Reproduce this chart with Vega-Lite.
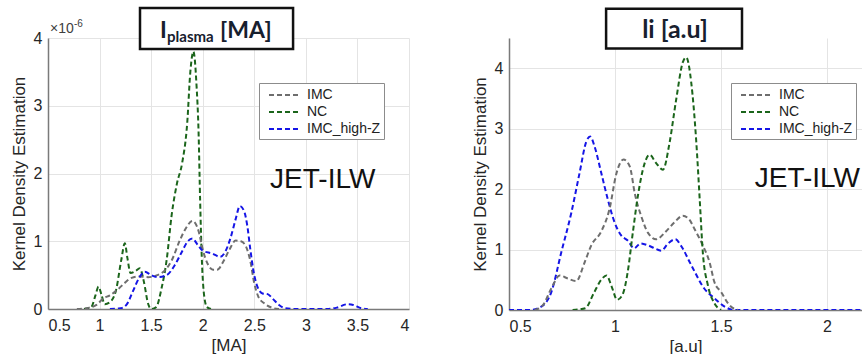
{
  "$schema": "https://vega.github.io/schema/vega-lite/v6.json",
  "padding": {"left": 10, "top": 6, "right": 0, "bottom": 0},
  "background": "white",
  "config": {
    "view": {"stroke": null},
    "font": "Liberation Sans",
    "axis": {
      "grid": true, "gridColor": "#e4e4e4", "gridWidth": 1,
      "domainColor": "#7a7a7a", "domainWidth": 1.5, "ticks": false,
      "labelFontSize": 16, "labelColor": "#262626", "labelFont": "Liberation Sans",
      "titleFontSize": 17, "titleFontWeight": "normal", "titleColor": "#262626", "titleFont": "Liberation Sans"
    },
    "axisX": {"labelPadding": 8, "titlePadding": 4},
    "axisY": {"labelPadding": 6, "titlePadding": 5},
    "legend": {
      "orient": "none", "title": null, "legendY": 45,
      "symbolType": "M-2,0H2", "symbolSize": 256, "symbolStrokeWidth": 2, "symbolDash": [5, 3],
      "symbolFillColor": "transparent", "symbolOffset": 14, "labelOffset": 13,
      "labelFontSize": 14, "labelFont": "Liberation Sans", "labelColor": "#222222",
      "strokeColor": "#8c8c8c", "strokeWidth": 1, "fillColor": "white", "padding": 3, "rowPadding": 1
    }
  },
  "datasets": {
    "ip": [
      {"series": "NC", "x": 0.85, "y": 0}, {"series": "NC", "x": 0.92, "y": 0.03}, {"series": "NC", "x": 0.96, "y": 0.2},
      {"series": "NC", "x": 0.99, "y": 0.33}, {"series": "NC", "x": 1.02, "y": 0.2}, {"series": "NC", "x": 1.05, "y": 0.07},
      {"series": "NC", "x": 1.1, "y": 0.1}, {"series": "NC", "x": 1.16, "y": 0.28}, {"series": "NC", "x": 1.21, "y": 0.72},
      {"series": "NC", "x": 1.245, "y": 0.97}, {"series": "NC", "x": 1.27, "y": 0.75}, {"series": "NC", "x": 1.3, "y": 0.53},
      {"series": "NC", "x": 1.35, "y": 0.56}, {"series": "NC", "x": 1.39, "y": 0.6}, {"series": "NC", "x": 1.43, "y": 0.4},
      {"series": "NC", "x": 1.47, "y": 0.08}, {"series": "NC", "x": 1.5, "y": 0}, {"series": "NC", "x": 1.55, "y": 0.03},
      {"series": "NC", "x": 1.6, "y": 0.3}, {"series": "NC", "x": 1.65, "y": 0.72}, {"series": "NC", "x": 1.7, "y": 1.4},
      {"series": "NC", "x": 1.75, "y": 1.85}, {"series": "NC", "x": 1.8, "y": 2.15}, {"series": "NC", "x": 1.85, "y": 2.75},
      {"series": "NC", "x": 1.88, "y": 3.5}, {"series": "NC", "x": 1.91, "y": 3.8}, {"series": "NC", "x": 1.94, "y": 3.3},
      {"series": "NC", "x": 1.96, "y": 2.6}, {"series": "NC", "x": 1.975, "y": 1.6}, {"series": "NC", "x": 1.99, "y": 0.8},
      {"series": "NC", "x": 2.01, "y": 0.25}, {"series": "NC", "x": 2.04, "y": 0.03}, {"series": "NC", "x": 2.08, "y": 0},
      {"series": "IMC", "x": 0.78, "y": 0}, {"series": "IMC", "x": 0.9, "y": 0.02}, {"series": "IMC", "x": 0.97, "y": 0.06},
      {"series": "IMC", "x": 1.04, "y": 0.16}, {"series": "IMC", "x": 1.1, "y": 0.2}, {"series": "IMC", "x": 1.17, "y": 0.28},
      {"series": "IMC", "x": 1.24, "y": 0.38}, {"series": "IMC", "x": 1.31, "y": 0.46}, {"series": "IMC", "x": 1.39, "y": 0.48},
      {"series": "IMC", "x": 1.47, "y": 0.47}, {"series": "IMC", "x": 1.56, "y": 0.5}, {"series": "IMC", "x": 1.64, "y": 0.58},
      {"series": "IMC", "x": 1.7, "y": 0.72}, {"series": "IMC", "x": 1.78, "y": 1.02}, {"series": "IMC", "x": 1.84, "y": 1.2},
      {"series": "IMC", "x": 1.9, "y": 1.3}, {"series": "IMC", "x": 1.96, "y": 1.15}, {"series": "IMC", "x": 2.0, "y": 0.88},
      {"series": "IMC", "x": 2.05, "y": 0.66}, {"series": "IMC", "x": 2.1, "y": 0.58}, {"series": "IMC", "x": 2.14, "y": 0.58},
      {"series": "IMC", "x": 2.2, "y": 0.7}, {"series": "IMC", "x": 2.26, "y": 0.88}, {"series": "IMC", "x": 2.32, "y": 1.01},
      {"series": "IMC", "x": 2.37, "y": 1.0}, {"series": "IMC", "x": 2.42, "y": 0.92}, {"series": "IMC", "x": 2.46, "y": 0.72},
      {"series": "IMC", "x": 2.5, "y": 0.38}, {"series": "IMC", "x": 2.54, "y": 0.18}, {"series": "IMC", "x": 2.6, "y": 0.08},
      {"series": "IMC", "x": 2.67, "y": 0.02}, {"series": "IMC", "x": 2.74, "y": 0},
      {"series": "IMC_high-Z", "x": 1.1, "y": 0}, {"series": "IMC_high-Z", "x": 1.2, "y": 0.01}, {"series": "IMC_high-Z", "x": 1.26, "y": 0.06},
      {"series": "IMC_high-Z", "x": 1.32, "y": 0.25}, {"series": "IMC_high-Z", "x": 1.38, "y": 0.45}, {"series": "IMC_high-Z", "x": 1.44, "y": 0.55},
      {"series": "IMC_high-Z", "x": 1.5, "y": 0.5}, {"series": "IMC_high-Z", "x": 1.56, "y": 0.47}, {"series": "IMC_high-Z", "x": 1.65, "y": 0.5},
      {"series": "IMC_high-Z", "x": 1.73, "y": 0.65}, {"series": "IMC_high-Z", "x": 1.8, "y": 0.85}, {"series": "IMC_high-Z", "x": 1.85, "y": 0.99},
      {"series": "IMC_high-Z", "x": 1.9, "y": 1.04}, {"series": "IMC_high-Z", "x": 1.95, "y": 0.95}, {"series": "IMC_high-Z", "x": 2.0, "y": 0.86},
      {"series": "IMC_high-Z", "x": 2.09, "y": 0.82}, {"series": "IMC_high-Z", "x": 2.17, "y": 0.77}, {"series": "IMC_high-Z", "x": 2.22, "y": 0.85},
      {"series": "IMC_high-Z", "x": 2.27, "y": 1.05}, {"series": "IMC_high-Z", "x": 2.32, "y": 1.33}, {"series": "IMC_high-Z", "x": 2.36, "y": 1.52},
      {"series": "IMC_high-Z", "x": 2.4, "y": 1.45}, {"series": "IMC_high-Z", "x": 2.43, "y": 1.25}, {"series": "IMC_high-Z", "x": 2.46, "y": 0.9},
      {"series": "IMC_high-Z", "x": 2.49, "y": 0.58}, {"series": "IMC_high-Z", "x": 2.53, "y": 0.33}, {"series": "IMC_high-Z", "x": 2.58, "y": 0.23},
      {"series": "IMC_high-Z", "x": 2.63, "y": 0.22}, {"series": "IMC_high-Z", "x": 2.68, "y": 0.15}, {"series": "IMC_high-Z", "x": 2.74, "y": 0.06},
      {"series": "IMC_high-Z", "x": 2.8, "y": 0.01}, {"series": "IMC_high-Z", "x": 2.9, "y": 0}, {"series": "IMC_high-Z", "x": 3.2, "y": 0},
      {"series": "IMC_high-Z", "x": 3.3, "y": 0.02}, {"series": "IMC_high-Z", "x": 3.4, "y": 0.07}, {"series": "IMC_high-Z", "x": 3.46, "y": 0.06},
      {"series": "IMC_high-Z", "x": 3.52, "y": 0.02}, {"series": "IMC_high-Z", "x": 3.6, "y": 0}
    ],
    "li": [
      {"series": "IMC_high-Z", "x": 0.5, "y": 0}, {"series": "IMC_high-Z", "x": 0.6, "y": 0}, {"series": "IMC_high-Z", "x": 0.65, "y": 0.05},
      {"series": "IMC_high-Z", "x": 0.7, "y": 0.3}, {"series": "IMC_high-Z", "x": 0.747, "y": 0.96}, {"series": "IMC_high-Z", "x": 0.794, "y": 1.61},
      {"series": "IMC_high-Z", "x": 0.833, "y": 2.27}, {"series": "IMC_high-Z", "x": 0.864, "y": 2.78}, {"series": "IMC_high-Z", "x": 0.883, "y": 2.87},
      {"series": "IMC_high-Z", "x": 0.904, "y": 2.7}, {"series": "IMC_high-Z", "x": 0.935, "y": 2.27}, {"series": "IMC_high-Z", "x": 0.966, "y": 1.83},
      {"series": "IMC_high-Z", "x": 0.998, "y": 1.45}, {"series": "IMC_high-Z", "x": 1.03, "y": 1.23}, {"series": "IMC_high-Z", "x": 1.06, "y": 1.15},
      {"series": "IMC_high-Z", "x": 1.09, "y": 1.02}, {"series": "IMC_high-Z", "x": 1.12, "y": 1.1}, {"series": "IMC_high-Z", "x": 1.155, "y": 1.07},
      {"series": "IMC_high-Z", "x": 1.2, "y": 1.0}, {"series": "IMC_high-Z", "x": 1.218, "y": 0.98}, {"series": "IMC_high-Z", "x": 1.25, "y": 1.1},
      {"series": "IMC_high-Z", "x": 1.285, "y": 1.17}, {"series": "IMC_high-Z", "x": 1.31, "y": 1.07}, {"series": "IMC_high-Z", "x": 1.36, "y": 0.74},
      {"series": "IMC_high-Z", "x": 1.42, "y": 0.36}, {"series": "IMC_high-Z", "x": 1.47, "y": 0.19}, {"series": "IMC_high-Z", "x": 1.52, "y": 0.05},
      {"series": "IMC_high-Z", "x": 1.56, "y": 0}, {"series": "IMC_high-Z", "x": 1.7, "y": 0}, {"series": "IMC_high-Z", "x": 2.2, "y": 0},
      {"series": "IMC", "x": 0.62, "y": 0}, {"series": "IMC", "x": 0.66, "y": 0.08}, {"series": "IMC", "x": 0.7, "y": 0.36},
      {"series": "IMC", "x": 0.739, "y": 0.57}, {"series": "IMC", "x": 0.778, "y": 0.52}, {"series": "IMC", "x": 0.817, "y": 0.48},
      {"series": "IMC", "x": 0.857, "y": 0.79}, {"series": "IMC", "x": 0.888, "y": 1.07}, {"series": "IMC", "x": 0.935, "y": 1.3},
      {"series": "IMC", "x": 0.974, "y": 1.67}, {"series": "IMC", "x": 1.006, "y": 2.25}, {"series": "IMC", "x": 1.04, "y": 2.49},
      {"series": "IMC", "x": 1.069, "y": 2.38}, {"series": "IMC", "x": 1.095, "y": 1.9}, {"series": "IMC", "x": 1.124, "y": 1.55},
      {"series": "IMC", "x": 1.155, "y": 1.28}, {"series": "IMC", "x": 1.194, "y": 1.17}, {"series": "IMC", "x": 1.24, "y": 1.3},
      {"series": "IMC", "x": 1.28, "y": 1.45}, {"series": "IMC", "x": 1.32, "y": 1.56}, {"series": "IMC", "x": 1.35, "y": 1.5},
      {"series": "IMC", "x": 1.375, "y": 1.34}, {"series": "IMC", "x": 1.414, "y": 1.07}, {"series": "IMC", "x": 1.446, "y": 0.79},
      {"series": "IMC", "x": 1.469, "y": 0.46}, {"series": "IMC", "x": 1.5, "y": 0.3}, {"series": "IMC", "x": 1.54, "y": 0.08},
      {"series": "IMC", "x": 1.58, "y": 0},
      {"series": "NC", "x": 0.8, "y": 0}, {"series": "NC", "x": 0.86, "y": 0.03}, {"series": "NC", "x": 0.9, "y": 0.28},
      {"series": "NC", "x": 0.935, "y": 0.5}, {"series": "NC", "x": 0.96, "y": 0.57}, {"series": "NC", "x": 0.985, "y": 0.38},
      {"series": "NC", "x": 1.01, "y": 0.17}, {"series": "NC", "x": 1.035, "y": 0.25}, {"series": "NC", "x": 1.06, "y": 0.63},
      {"series": "NC", "x": 1.084, "y": 1.28}, {"series": "NC", "x": 1.108, "y": 1.89}, {"series": "NC", "x": 1.14, "y": 2.43},
      {"series": "NC", "x": 1.163, "y": 2.57}, {"series": "NC", "x": 1.194, "y": 2.43}, {"series": "NC", "x": 1.226, "y": 2.32},
      {"series": "NC", "x": 1.257, "y": 2.76}, {"series": "NC", "x": 1.288, "y": 3.47}, {"series": "NC", "x": 1.32, "y": 4.1},
      {"series": "NC", "x": 1.336, "y": 4.18}, {"series": "NC", "x": 1.36, "y": 3.75}, {"series": "NC", "x": 1.383, "y": 2.8},
      {"series": "NC", "x": 1.4, "y": 1.8}, {"series": "NC", "x": 1.414, "y": 0.96}, {"series": "NC", "x": 1.438, "y": 0.41},
      {"series": "NC", "x": 1.469, "y": 0.11}, {"series": "NC", "x": 1.5, "y": 0}
    ]
  },
  "spacing": 62,
  "resolve": {"scale": {"color": "independent"}, "legend": {"color": "independent"}},
  "hconcat": [
    {
      "width": 361, "height": 271,
      "layer": [
        {
          "data": {"name": "ip"},
          "mark": {"type": "line", "strokeDash": [5, 3], "strokeWidth": 2, "interpolate": "monotone", "clip": true},
          "encoding": {
            "x": {"field": "x", "type": "quantitative", "scale": {"domain": [0.5, 4], "nice": false, "zero": false},
                  "axis": {"values": [0.5, 1, 1.5, 2, 2.5, 3, 3.5, 4], "format": "~g", "title": "[MA]"}},
            "y": {"field": "y", "type": "quantitative", "scale": {"domain": [0, 4], "nice": false},
                  "axis": {"values": [0, 1, 2, 3, 4], "format": "~g", "title": "Kernel Density Estimation"}},
            "color": {"field": "series", "type": "nominal",
                      "scale": {"domain": ["IMC", "NC", "IMC_high-Z"], "range": ["#6e6e6e", "#1b651b", "#1515e6"]},
                      "legend": {"legendX": 211}}
          }
        },
        {
          "data": {"values": [{}]},
          "mark": {"type": "rect", "fill": "white", "stroke": "#111111", "strokeWidth": 2.5},
          "encoding": {"x": {"datum": 1.392}, "x2": {"datum": 2.876}, "y": {"datum": 4.443}, "y2": {"datum": 3.838}}
        },
        {
          "data": {"values": [{}]},
          "mark": {"type": "text", "text": "I", "font": "Lato", "fontWeight": "bold", "fontSize": 23, "align": "left", "baseline": "alphabetic", "color": "#17202e"},
          "encoding": {"x": {"datum": 1.586}, "y": {"datum": 4.004}}
        },
        {
          "data": {"values": [{}]},
          "mark": {"type": "text", "text": "plasma", "font": "Lato", "fontWeight": "bold", "fontSize": 15, "align": "left", "baseline": "alphabetic", "color": "#17202e"},
          "encoding": {"x": {"datum": 1.654}, "y": {"datum": 3.94}}
        },
        {
          "data": {"values": [{}]},
          "mark": {"type": "text", "text": "[MA]", "font": "Lato", "fontWeight": "bold", "fontSize": 23, "align": "left", "baseline": "alphabetic", "color": "#17202e"},
          "encoding": {"x": {"datum": 2.168}, "y": {"datum": 4.004}}
        },
        {
          "data": {"values": [{}]},
          "mark": {"type": "text", "text": "×10", "fontSize": 14, "align": "left", "baseline": "alphabetic", "color": "#404040"},
          "encoding": {"x": {"datum": 0.519}, "y": {"datum": 4.074}}
        },
        {
          "data": {"values": [{}]},
          "mark": {"type": "text", "text": "-6", "fontSize": 10, "align": "left", "baseline": "alphabetic", "color": "#404040"},
          "encoding": {"x": {"datum": 0.752}, "y": {"datum": 4.162}}
        },
        {
          "data": {"values": [{}]},
          "mark": {"type": "text", "text": "JET-ILW", "fontSize": 28, "align": "left", "baseline": "alphabetic", "color": "#111111"},
          "encoding": {"x": {"datum": 2.653}, "y": {"datum": 1.786}}
        }
      ]
    },
    {
      "width": 353, "height": 272,
      "layer": [
        {
          "data": {"name": "li"},
          "mark": {"type": "line", "strokeDash": [5, 3], "strokeWidth": 2, "interpolate": "monotone", "clip": true},
          "encoding": {
            "x": {"field": "x", "type": "quantitative", "scale": {"domain": [0.5, 2.165], "nice": false, "zero": false},
                  "axis": {"values": [0.5, 1, 1.5, 2], "format": "~g", "title": "[a.u]"}},
            "y": {"field": "y", "type": "quantitative", "scale": {"domain": [0, 4.5], "nice": false},
                  "axis": {"values": [0, 1, 2, 3, 4], "format": "~g", "title": "Kernel Density Estimation"}},
            "color": {"field": "series", "type": "nominal",
                      "scale": {"domain": ["IMC", "NC", "IMC_high-Z"], "range": ["#6e6e6e", "#1b651b", "#1515e6"]},
                      "legend": {"legendX": 222}}
          }
        },
        {
          "data": {"values": [{}]},
          "mark": {"type": "rect", "fill": "white", "stroke": "#111111", "strokeWidth": 2.5},
          "encoding": {"x": {"datum": 0.958}, "x2": {"datum": 1.599}, "y": {"datum": 4.984}, "y2": {"datum": 4.328}}
        },
        {
          "data": {"values": [{}]},
          "mark": {"type": "text", "text": "li [a.u]", "font": "Lato", "fontWeight": "bold", "fontSize": 25, "align": "center", "baseline": "alphabetic", "color": "#17202e"},
          "encoding": {"x": {"datum": 1.283}, "y": {"datum": 4.508}}
        },
        {
          "data": {"values": [{}]},
          "mark": {"type": "text", "text": "JET-ILW", "fontSize": 28, "align": "left", "baseline": "alphabetic", "color": "#111111", "clip": true},
          "encoding": {"x": {"datum": 1.659}, "y": {"datum": 2.03}}
        }
      ]
    }
  ]
}
